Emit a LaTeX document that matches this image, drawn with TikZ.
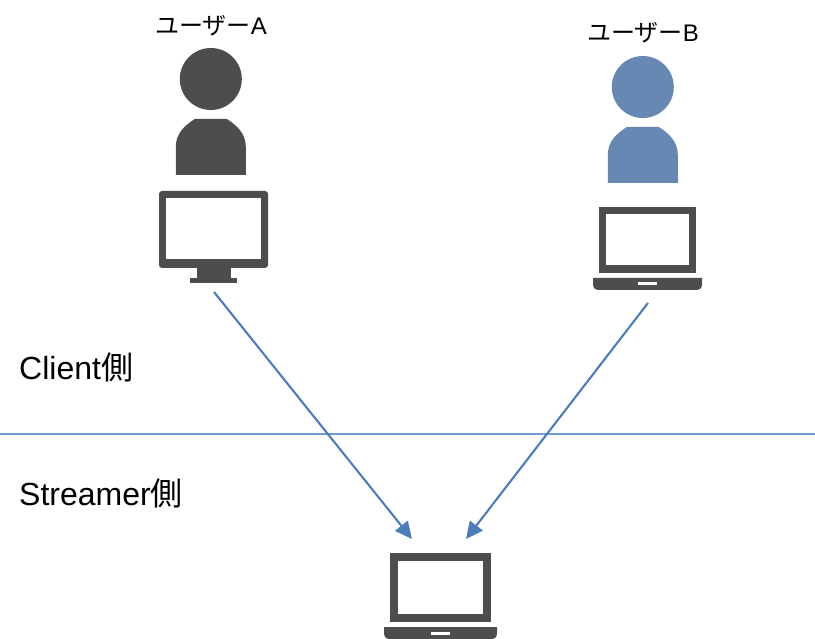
\documentclass[tikz,border=0pt]{standalone}
\usepackage{fontspec}
\setmainfont{Liberation Sans}
\newfontfamily\jpfont{Noto Sans CJK JP}
\usetikzlibrary{arrows.meta}
\definecolor{icondark}{HTML}{4D4D4D}
\definecolor{personblue}{HTML}{6688B3}
\definecolor{arrowblue}{HTML}{4A7EBB}
\definecolor{ruleblue}{HTML}{6F9BCB}
\tikzset{
  icon/.style={fill=icondark,draw=none},
  hole/.style={fill=white,draw=none},
  conn/.style={draw=arrowblue,line width=2.1pt,-{Triangle[length=17pt,width=16pt]}},
  userlabel/.style={inner sep=0pt,font=\fontsize{24}{28}\selectfont},
  sidelabel/.style={inner sep=0pt,anchor=west,font=\fontsize{32}{38}\selectfont}
}
\newcommand{\personicon}[3]{% cx, head cy, colour
  \fill[#3] (#1,#2) circle[radius=31];
  \fill[#3] (#1-35,#2+96) -- (#1-35,#2+68)
    .. controls (#1-35,#2+55) and (#1-27,#2+47) .. (#1-16,#2+40)
    -- (#1+16,#2+40)
    .. controls (#1+27,#2+47) and (#1+35,#2+55) .. (#1+35,#2+68)
    -- (#1+35,#2+96) -- cycle;
}
\begin{document}
\begin{tikzpicture}[x=1pt,y=-1pt]
\useasboundingbox (0,0) rectangle (815,639);
% labels
\node[userlabel] (labelA) at (211,26) {{\jpfont ユーザー}A};
\node[userlabel] (labelB) at (643,33) {{\jpfont ユーザー}B};
\node[sidelabel] (client) at (19,367) {Client{\jpfont 側}};
\node[sidelabel] (streamer) at (19,493) {Streamer{\jpfont 側}};
% people
\personicon{210.8}{79}{icondark}
\personicon{642.8}{87}{personblue}
% monitor
\fill[icon,rounded corners=3pt] (159,191) rectangle (268,268);
\fill[hole] (166,198) rectangle (261,259);
\fill[icon] (197,267) rectangle (231,279);
\fill[icon] (190,278) rectangle (237,283);
% laptop B
\fill[icon] (599,207) rectangle (696,273);
\fill[hole] (606,214) rectangle (689,265);
\fill[icon] (593,278) -- (702,278) -- (702,284) .. controls (702,288) and (700,290) .. (696,290)
  -- (599,290) .. controls (595,290) and (593,288) .. (593,284) -- cycle;
\fill[hole] (638,282.5) rectangle (657,285);
% laptop streamer
\fill[icon] (390,553) rectangle (491,622);
\fill[hole] (398,561) rectangle (483,614);
\fill[icon] (384,627) -- (497,627) -- (497,633) .. controls (497,637) and (495,639) .. (491,639)
  -- (390,639) .. controls (386,639) and (384,637) .. (384,633) -- cycle;
\fill[hole] (431,632) rectangle (450,635);
% separator
\coordinate (ruleL) at (0,434);
\coordinate (ruleR) at (815,434);
\draw[ruleblue,line width=1.2pt] (ruleL) -- (ruleR);
% connectors
\coordinate (fromA) at (214,292);
\coordinate (fromB) at (648,303);
\coordinate (toA) at (412,539);
\coordinate (toB) at (466,539);
\draw[conn] (fromA) -- (toA);
\draw[conn] (fromB) -- (toB);
\end{tikzpicture}
\end{document}
